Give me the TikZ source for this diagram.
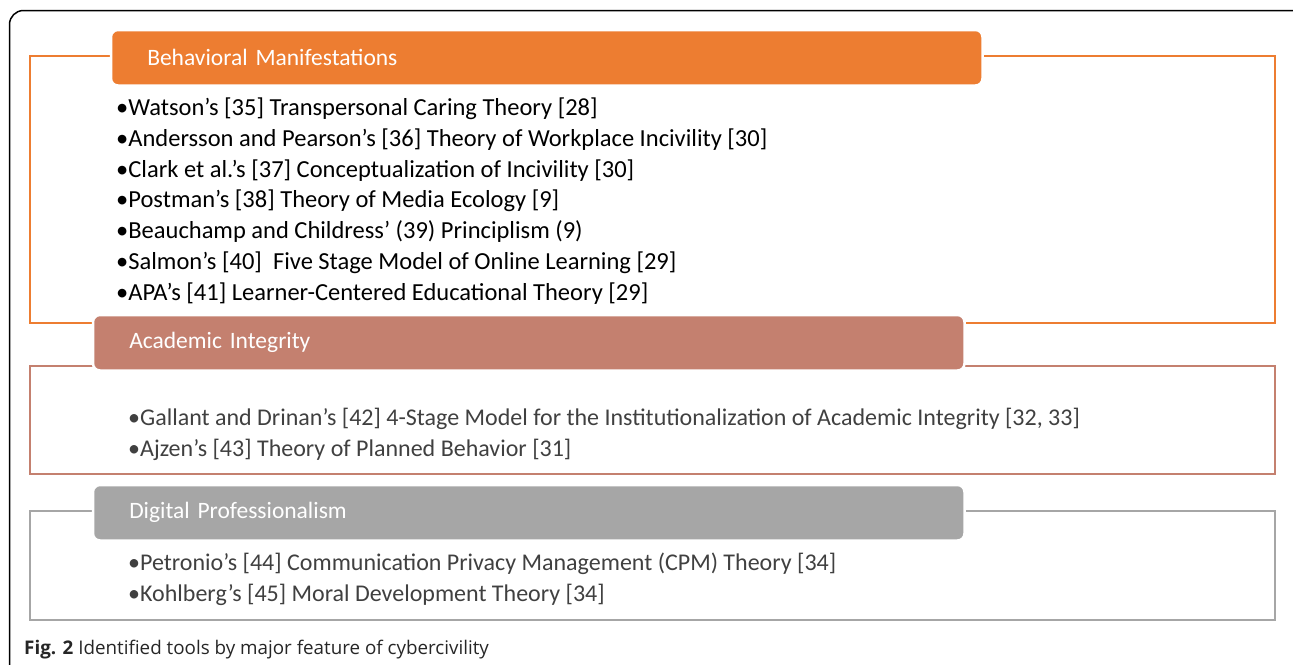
\documentclass[tikz,border=0pt]{standalone}
\usepackage{fontspec}
\setmainfont{Carlito}
\newfontfamily\capfont{Open Sans}
\definecolor{bmcol}{RGB}{237,125,49}
\definecolor{aicol}{RGB}{196,128,111}
\definecolor{dpcol}{RGB}{166,166,166}
\definecolor{txtdark}{RGB}{64,64,64}
\tikzset{
  header/.style={fill=#1, draw=white, line width=2.5pt, rounded corners=7pt,
    text=white, anchor=north west, minimum width=871.5pt, minimum height=55.5pt,
    text width=799pt, inner xsep=36.25pt, inner ysep=0pt, align=left,
    font=\fontsize{23.5}{28}\selectfont},
  frame/.style={draw=#1, line width=2pt},
  items/.style={anchor=base west, align=left, inner sep=0pt,
    font=\fontsize{24}{30.7}\selectfont},
}
\begin{document}
\begin{tikzpicture}[x=1pt,y=-1pt]
\useasboundingbox (0,0) rectangle (1293,664);
\begin{scope}
\clip (0,0) rectangle (1293,664);
\draw[line width=1.5pt, rounded corners=14pt] (9.5,10.5) rectangle (1310,690);
\end{scope}
% frames
\draw[frame=bmcol] (30,56) rectangle (1275,323);
\draw[frame=aicol] (30,366) rectangle (1275,474);
\draw[frame=dpcol] (30,511) rectangle (1275,620);
% headers
\node[header=bmcol] (bm) at (109.75,28.75) {Behavioral Manifestations};
\node[header=aicol] (ai) at (91.75,313.75) {Academic Integrity};
\node[header=dpcol] (dp) at (91.75,483.75) {Digital Professionalism};
% lists (anchor = baseline of last line)
\node[items, font=\fontsize{24.5}{30.7}\selectfont] (bml) at (116,300) {\textbullet Watson’s [35] Transpersonal Caring Theory [28]\\
\textbullet Andersson and Pearson’s [36] Theory of Workplace Incivility [30]\\
\textbullet Clark et al.’s [37] Conceptualization of Incivility [30]\\
\textbullet Postman’s [38] Theory of Media Ecology [9]\\
\textbullet Beauchamp and Childress’ (39) Principlism (9)\\
\textbullet Salmon’s [40]\ \ Five Stage Model of Online Learning [29]\\
\textbullet APA’s [41] Learner-Centered Educational Theory [29]};
\node[items, text=txtdark] (ail) at (128,456) {\textbullet Gallant and Drinan’s [42] 4-Stage Model for the Institutionalization of Academic Integrity [32, 33]\\
\textbullet Ajzen’s [43] Theory of Planned Behavior [31]};
\node[items, text=txtdark] (dpl) at (128,601) {\textbullet Petronio’s [44] Communication Privacy Management (CPM) Theory [34]\\
\textbullet Kohlberg’s [45] Moral Development Theory [34]};
% caption
\node[anchor=base west, inner sep=0pt, text=black!85, font=\capfont\fontsize{18.8}{22}\selectfont] (cap) at (24,654) {\textbf{Fig. 2} Identified tools by major feature of cybercivility};
\end{tikzpicture}
\end{document}
